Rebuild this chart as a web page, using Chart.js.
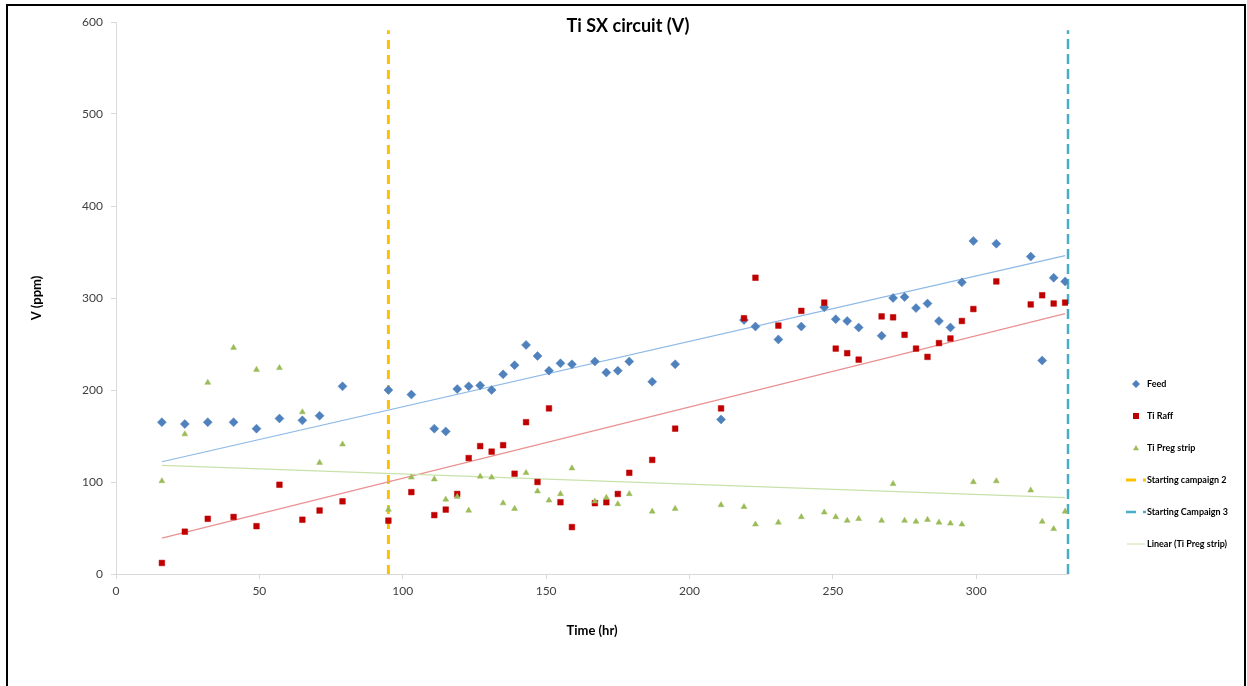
<!DOCTYPE html>
<html>
<head>
<meta charset="utf-8">
<title>Ti SX circuit (V)</title>
<style>
  html, body { margin: 0; padding: 0; background: #fff; overflow: hidden; }
  #wrap { position: relative; width: 1247px; height: 686px; }
  #chart { position: absolute; left: 0; top: 0; }
  #frame { position: absolute; left: 6px; top: 4px; width: 1236px; height: 720px;
           border: 2px solid #000; pointer-events: none; }
</style>
<script src="https://cdn.jsdelivr.net/npm/chart.js@4.4.1/dist/chart.umd.min.js"></script>
</head>
<body>
<div id="wrap">
  <canvas id="chart" width="1247" height="686"></canvas>
  <div id="frame"></div>
</div>
<script>
// Sampling times (hr)
const hours = [16, 24, 32, 41, 49, 57, 65, 71, 79, 95, 103, 111, 115, 119, 123, 127, 131, 135,
  139, 143, 147, 151, 155, 159, 167, 171, 175, 179, 187, 195, 211, 219, 223, 231, 239, 247,
  251, 255, 259, 267, 271, 275, 279, 283, 287, 291, 295, 299, 307, 319, 323, 327, 331];

// V concentration (ppm) per stream
const feed = [165, 163, 165, 165, 158, 169, 167, 172, 204, 200, 195, 158, 155, 201, 204, 205, 200, 217,
  227, 249, 237, 221, 229, 228, 231, 219, 221, 231, 209, 228, 168, 276, 269, 255, 269, 290,
  277, 275, 268, 259, 300, 301, 289, 294, 275, 268, 317, 362, 359, 345, 232, 322, 318];

const tiRaff = [12, 46, 60, 62, 52, 97, 59, 69, 79, 58, 89, 64, 70, 87, 126, 139, 133, 140,
  109, 165, 100, 180, 78, 51, 77, 78, 87, 110, 124, 158, 180, 278, 322, 270, 286, 295,
  245, 240, 233, 280, 279, 260, 245, 236, 251, 256, 275, 288, 318, 293, 303, 294, 295];

const tiPregStrip = [101, 152, 208, 246, 222, 224, 176, 121, 141, 70, 105, 103, 81, 84, 69, 106, 105, 77,
  71, 110, 90, 80, 87, 115, 79, 83, 76, 87, 68, 71, 75, 73, 54, 56, 62, 67,
  62, 58, 60, 58, 98, 58, 57, 59, 56, 55, 54, 100, 101, 91, 57, 49, 68];

// Linear trendlines: value (ppm) at the first and last sample time
const trendHours = [16, 331];
const trendFeed = [122, 346];
const trendTiRaff = [39, 283];
const trendTiPregStrip = [118, 83];

// Campaign start markers (hr)
const campaign2Start = 95;
const campaign3Start = 332;

// Axis ticks
const xTickValues = [0, 50, 100, 150, 200, 250, 300];
const yTickValues = [0, 100, 200, 300, 400, 500, 600];

const FONT = 'Lato, "Open Sans", "Liberation Sans", sans-serif';
const C_FEED = '#4F81BD';
const C_RAFF = '#C00000';
const C_PREG = '#9BBB59';
const C_CAMP2 = '#FFC000';
const C_CAMP3 = '#4BACC6';

function pairs(xs, ys) {
  return xs.map((x, i) => ({ x: x, y: ys[i] }));
}

function markerSet(label, ys, color, style, radius, order, legendMark) {
  return {
    type: 'scatter', label: label, data: pairs(hours, ys),
    pointStyle: style, pointRadius: radius, pointHoverRadius: radius,
    pointBackgroundColor: color, pointBorderColor: color, pointBorderWidth: 0.5,
    showLine: false, order: order, legendMark: legendMark
  };
}

function lineSet(label, data, color, width, dash, order, legendMark) {
  return {
    type: 'line', label: label, data: data,
    borderColor: color, borderWidth: width, borderDash: dash || [],
    pointRadius: 0, pointHoverRadius: 0, fill: false, tension: 0,
    order: order, clip: false, legendMark: legendMark
  };
}

const datasets = [
  markerSet('Feed', feed, C_FEED, 'rectRot', 4.5, 3, 'diamond'),
  markerSet('Ti Raff', tiRaff, C_RAFF, 'rect', 4, 2, 'square'),
  markerSet('Ti Preg strip', tiPregStrip, C_PREG, 'triangle', 3.4, 1, 'triangle'),
  lineSet('Starting campaign 2', [{ x: campaign2Start, y: 0 }, { x: campaign2Start, y: 591 }],
    C_CAMP2, 3, [9, 6], 10, 'dash'),
  lineSet('Starting Campaign 3', [{ x: campaign3Start, y: 0 }, { x: campaign3Start, y: 591 }],
    C_CAMP3, 2.5, [10, 5], 10, 'dash'),
  lineSet('Linear (Ti Preg strip)', pairs(trendHours, trendTiPregStrip), '#C9E2AC', 1.2, null, 8, 'line'),
  lineSet('Linear (Feed)', pairs(trendHours, trendFeed), '#8DB9E6', 1.2, null, 8, null),
  lineSet('Linear (Ti Raff)', pairs(trendHours, trendTiRaff), '#E99191', 1.2, null, 8, null)
];

// Chart title and side legend, drawn over the plot like the spreadsheet layout
const overlayPlugin = {
  id: 'overlay',
  afterDraw(chart) {
    const ctx = chart.ctx;
    ctx.save();
    ctx.fillStyle = '#000';
    ctx.font = 'bold 18px ' + FONT;
    ctx.textAlign = 'center';
    ctx.textBaseline = 'middle';
    ctx.fillText('Ti SX circuit (V)', 628, 26);

    const items = chart.data.datasets.filter(d => d.legendMark);
    const mx = 1136, tx = 1147, y0 = 384, dy = 32;
    ctx.font = 'bold 9px ' + FONT;
    ctx.textAlign = 'left';
    items.forEach((d, i) => {
      const y = y0 + i * dy;
      const col = d.pointBackgroundColor || d.borderColor;
      ctx.fillStyle = col;
      ctx.strokeStyle = col;
      ctx.setLineDash([]);
      ctx.beginPath();
      if (d.legendMark === 'diamond') {
        ctx.moveTo(mx, y - 4); ctx.lineTo(mx + 4, y); ctx.lineTo(mx, y + 4); ctx.lineTo(mx - 4, y);
        ctx.closePath(); ctx.fill();
      } else if (d.legendMark === 'square') {
        ctx.fillRect(mx - 3, y - 3, 6, 6);
      } else if (d.legendMark === 'triangle') {
        ctx.moveTo(mx, y - 3); ctx.lineTo(mx + 3, y + 2.2); ctx.lineTo(mx - 3, y + 2.2);
        ctx.closePath(); ctx.fill();
      } else if (d.legendMark === 'dash') {
        ctx.lineWidth = d.borderWidth;
        ctx.moveTo(1126, y); ctx.lineTo(1136, y);
        ctx.moveTo(1143, y); ctx.lineTo(1146, y);
        ctx.stroke();
      } else if (d.legendMark === 'line') {
        ctx.lineWidth = 1;
        ctx.moveTo(1127, y); ctx.lineTo(1145, y);
        ctx.stroke();
      }
      ctx.fillStyle = '#000';
      ctx.fillText(d.label, tx, y + 0.5);
    });
    ctx.restore();
  }
};

new Chart(document.getElementById('chart'), {
  type: 'scatter',
  data: { datasets: datasets },
  plugins: [overlayPlugin],
  options: {
    responsive: false,
    animation: false,
    events: [],
    layout: { padding: { left: 0, top: 22, right: 179, bottom: 0 } },
    plugins: { legend: { display: false }, title: { display: false }, tooltip: { enabled: false } },
    scales: {
      x: {
        type: 'linear', position: 'bottom', min: 0, max: 332,
        afterBuildTicks: s => { s.ticks = xTickValues.map(v => ({ value: v })); },
        afterFit: s => { s.height = 112; },
        grid: { drawOnChartArea: false, drawTicks: true, tickLength: 5, color: '#D9D9D9' },
        border: { color: '#D9D9D9', width: 1 },
        ticks: { font: { family: FONT, size: 12 }, color: '#404040', padding: 5, maxRotation: 0 },
        title: { display: true, text: 'Time (hr)', color: '#000',
                 font: { family: FONT, size: 13, weight: 'bold' }, padding: { top: 0, bottom: 47 } }
      },
      y: {
        type: 'linear', position: 'left', min: 0, max: 600,
        afterBuildTicks: s => { s.ticks = yTickValues.map(v => ({ value: v })); },
        afterFit: s => { s.width = 116; },
        grid: { drawOnChartArea: false, drawTicks: true, tickLength: 5, color: '#D9D9D9' },
        border: { color: '#D9D9D9', width: 1 },
        ticks: { font: { family: FONT, size: 12 }, color: '#404040', padding: 8 },
        title: { display: true, text: 'V (ppm)', color: '#000',
                 font: { family: FONT, size: 13, weight: 'bold' }, padding: { top: 29, bottom: 0 } }
      }
    }
  }
});
</script>
</body>
</html>
